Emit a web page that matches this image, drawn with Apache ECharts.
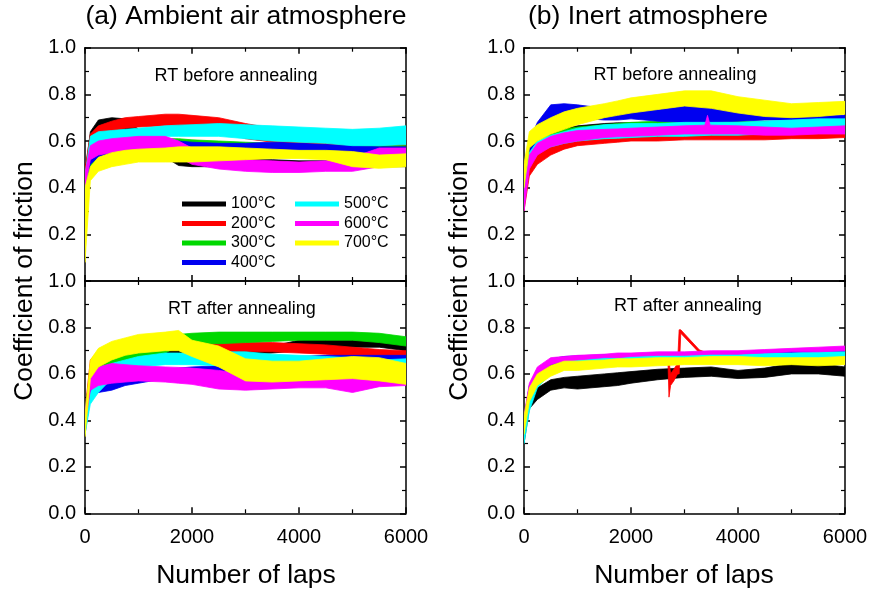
<!DOCTYPE html>
<html>
<head>
<meta charset="utf-8">
<script src="https://cdn.jsdelivr.net/npm/echarts@6/dist/echarts.min.js"></script>
<style>
html,body{margin:0;padding:0;background:#fff;}
#chart{width:874px;height:592px;}
</style>
</head>
<body>
<div id="chart"></div>
<script>
// ---------- DATA ----------
const temps = ['100°C', '200°C', '300°C', '400°C', '500°C', '600°C', '700°C'];
const xTicks = [0, 2000, 4000, 6000];
const yTicks = [0.0, 0.2, 0.4, 0.6, 0.8, 1.0];

// laps at which band limits were read (common sampling)
const X = [0, 100, 250, 500, 750, 1000, 1500, 1750, 2000, 2500, 3000, 3500, 4000, 4500, 5000, 5500, 6000];

// (a) Ambient air, RT before annealing : lower / upper edge of each band
const airBefore100Lo = [0.40,0.58,0.64,0.655,0.64,0.60,0.53,0.495,0.49,0.49,0.49,0.49,0.49,0.49,0.49,0.49,0.49];
const airBefore100Hi = [0.46,0.64,0.69,0.70,0.695,0.65,0.58,0.545,0.53,0.52,0.52,0.52,0.515,0.515,0.515,0.51,0.51];
const airBefore200Lo = [0.42,0.58,0.62,0.64,0.655,0.66,0.665,0.665,0.66,0.645,0.61,0.595,0.585,0.58,0.575,0.57,0.57];
const airBefore200Hi = [0.48,0.63,0.665,0.685,0.70,0.705,0.715,0.715,0.71,0.70,0.675,0.655,0.635,0.62,0.61,0.60,0.60];
const airBefore300Lo = [0.38,0.48,0.52,0.55,0.56,0.57,0.58,0.58,0.585,0.58,0.57,0.57,0.565,0.56,0.56,0.56,0.56];
const airBefore300Hi = [0.42,0.53,0.56,0.59,0.595,0.60,0.61,0.61,0.605,0.60,0.595,0.59,0.585,0.58,0.58,0.58,0.58];
const airBefore400Lo = [0.38,0.50,0.53,0.54,0.55,0.55,0.555,0.56,0.56,0.565,0.56,0.56,0.56,0.555,0.55,0.55,0.55];
const airBefore400Hi = [0.44,0.55,0.58,0.59,0.595,0.60,0.60,0.60,0.595,0.59,0.59,0.595,0.59,0.585,0.58,0.575,0.575];
const airBefore500Lo = [0.38,0.55,0.59,0.60,0.61,0.615,0.62,0.62,0.62,0.62,0.61,0.60,0.595,0.59,0.58,0.58,0.585];
const airBefore500Hi = [0.45,0.62,0.64,0.645,0.65,0.655,0.665,0.668,0.67,0.675,0.67,0.665,0.66,0.655,0.65,0.655,0.665];
const airBefore600Lo = [0.40,0.52,0.54,0.55,0.56,0.56,0.55,0.53,0.50,0.48,0.47,0.465,0.465,0.47,0.47,0.49,0.50];
const airBefore600Hi = [0.46,0.58,0.60,0.61,0.615,0.62,0.62,0.60,0.57,0.53,0.52,0.515,0.51,0.515,0.53,0.57,0.57];
const airBefore700Lo = [0.08,0.43,0.47,0.49,0.50,0.51,0.51,0.51,0.51,0.515,0.52,0.525,0.525,0.52,0.49,0.483,0.49];
const airBefore700Hi = [0.40,0.49,0.53,0.55,0.56,0.565,0.57,0.575,0.575,0.575,0.57,0.565,0.56,0.56,0.555,0.54,0.545];

// (a) Ambient air, RT after annealing
const airAfter100Lo = [0.38,0.55,0.60,0.62,0.64,0.65,0.67,0.68,0.68,0.685,0.685,0.69,0.70,0.71,0.715,0.715,0.70];
const airAfter100Hi = [0.44,0.61,0.65,0.67,0.68,0.69,0.70,0.705,0.705,0.705,0.705,0.72,0.745,0.75,0.75,0.745,0.735];
const airAfter200Lo = [0.36,0.60,0.65,0.68,0.70,0.71,0.71,0.71,0.70,0.695,0.695,0.695,0.69,0.685,0.675,0.665,0.665];
const airAfter200Hi = [0.44,0.66,0.70,0.73,0.75,0.765,0.77,0.77,0.76,0.74,0.735,0.735,0.73,0.725,0.715,0.705,0.70];
const airAfter300Lo = [0.38,0.55,0.60,0.63,0.65,0.67,0.69,0.72,0.73,0.73,0.735,0.74,0.745,0.745,0.745,0.735,0.72];
const airAfter300Hi = [0.45,0.60,0.65,0.68,0.70,0.71,0.735,0.77,0.775,0.78,0.78,0.78,0.78,0.78,0.78,0.775,0.76];
const airAfter400Lo = [0.34,0.50,0.52,0.53,0.55,0.56,0.58,0.59,0.60,0.605,0.63,0.645,0.655,0.66,0.66,0.66,0.66];
const airAfter400Hi = [0.40,0.54,0.56,0.57,0.59,0.60,0.62,0.625,0.63,0.635,0.66,0.67,0.675,0.68,0.68,0.68,0.68];
const airAfter500Lo = [0.34,0.47,0.52,0.58,0.62,0.63,0.64,0.64,0.64,0.635,0.655,0.65,0.655,0.65,0.64,0.635,0.635];
const airAfter500Hi = [0.40,0.52,0.58,0.645,0.66,0.675,0.69,0.69,0.69,0.695,0.695,0.685,0.68,0.675,0.67,0.66,0.665];
const airAfter600Lo = [0.38,0.53,0.55,0.56,0.565,0.57,0.565,0.56,0.555,0.535,0.53,0.535,0.54,0.54,0.52,0.545,0.55];
const airAfter600Hi = [0.44,0.60,0.63,0.645,0.64,0.635,0.63,0.628,0.625,0.615,0.60,0.59,0.59,0.59,0.585,0.59,0.59];
const airAfter700Lo = [0.33,0.58,0.63,0.66,0.68,0.69,0.70,0.70,0.675,0.63,0.57,0.565,0.57,0.575,0.58,0.57,0.555];
const airAfter700Hi = [0.42,0.66,0.71,0.74,0.755,0.77,0.78,0.787,0.745,0.72,0.665,0.655,0.655,0.665,0.675,0.67,0.645];

// (b) Inert, RT before annealing
const inertBefore100Lo = [0.32,0.50,0.56,0.60,0.62,0.63,0.64,0.645,0.645,0.65,0.65,0.65,0.65,0.65,0.65,0.655,0.655];
const inertBefore100Hi = [0.38,0.55,0.60,0.64,0.655,0.665,0.675,0.678,0.678,0.68,0.68,0.68,0.68,0.68,0.68,0.685,0.685];
const inertBefore200Lo = [0.30,0.45,0.50,0.54,0.565,0.58,0.59,0.595,0.60,0.60,0.605,0.605,0.605,0.605,0.61,0.61,0.615];
const inertBefore200Hi = [0.36,0.50,0.55,0.58,0.60,0.615,0.625,0.63,0.63,0.63,0.635,0.635,0.635,0.635,0.64,0.64,0.645];
const inertBefore300Lo = [0.33,0.52,0.57,0.60,0.61,0.62,0.63,0.635,0.64,0.645,0.645,0.645,0.65,0.65,0.65,0.65,0.65];
const inertBefore300Hi = [0.40,0.57,0.61,0.64,0.65,0.66,0.67,0.675,0.68,0.685,0.685,0.685,0.685,0.685,0.685,0.685,0.685];
const inertBefore400Lo = [0.38,0.50,0.60,0.70,0.71,0.70,0.69,0.69,0.695,0.685,0.68,0.68,0.685,0.69,0.69,0.69,0.69];
const inertBefore400Hi = [0.48,0.60,0.68,0.755,0.76,0.755,0.74,0.73,0.725,0.735,0.75,0.75,0.73,0.72,0.71,0.71,0.71];
const inertBefore500Lo = [0.33,0.50,0.55,0.575,0.59,0.60,0.61,0.612,0.615,0.62,0.62,0.625,0.625,0.63,0.63,0.635,0.635];
const inertBefore500Hi = [0.40,0.55,0.60,0.625,0.64,0.655,0.67,0.672,0.675,0.675,0.68,0.68,0.68,0.685,0.69,0.695,0.695];
const inertBefore600X  = [0, 100, 250, 500, 750, 1000, 1500, 1750, 2000, 2500, 3000, 3380, 3430, 3480, 4000, 4500, 5000, 5500, 6000];
const inertBefore600Lo = [0.30,0.48,0.54,0.575,0.59,0.60,0.615,0.618,0.62,0.625,0.63,0.63,0.63,0.63,0.63,0.625,0.625,0.63,0.63];
const inertBefore600Hi = [0.38,0.54,0.59,0.62,0.635,0.645,0.65,0.652,0.655,0.66,0.665,0.668,0.71,0.668,0.665,0.66,0.655,0.66,0.665];
const inertBefore700Lo = [0.40,0.57,0.60,0.63,0.65,0.67,0.70,0.71,0.72,0.735,0.75,0.74,0.72,0.705,0.70,0.705,0.715];
const inertBefore700Hi = [0.50,0.64,0.67,0.70,0.725,0.74,0.76,0.772,0.785,0.80,0.815,0.815,0.79,0.775,0.76,0.765,0.77];

// (b) Inert, RT after annealing
const inertAfter100Lo = [0.30,0.45,0.49,0.53,0.54,0.535,0.545,0.55,0.56,0.575,0.585,0.59,0.58,0.585,0.60,0.60,0.59];
const inertAfter100Hi = [0.36,0.50,0.54,0.575,0.585,0.59,0.60,0.605,0.61,0.62,0.625,0.63,0.615,0.625,0.645,0.645,0.63];
const inertAfter200X  = [0, 100, 250, 500, 750, 1000, 1500, 1750, 2000, 2500, 2690, 2710, 2740, 2800, 2870, 2900, 2930, 3280, 3500, 4000, 4500, 5000, 5500, 6000];
const inertAfter200Lo = [0.32,0.47,0.55,0.61,0.63,0.64,0.65,0.65,0.655,0.66,0.66,0.50,0.55,0.57,0.60,0.60,0.775,0.69,0.67,0.67,0.675,0.675,0.68,0.68];
const inertAfter200Hi = [0.38,0.52,0.59,0.645,0.655,0.665,0.675,0.675,0.678,0.68,0.68,0.66,0.60,0.62,0.645,0.79,0.79,0.703,0.685,0.685,0.69,0.69,0.695,0.695];
const inertAfter300Lo = [0.34,0.50,0.58,0.635,0.65,0.655,0.66,0.665,0.665,0.67,0.67,0.675,0.675,0.68,0.68,0.68,0.685];
const inertAfter300Hi = [0.40,0.55,0.62,0.665,0.672,0.675,0.68,0.68,0.685,0.69,0.69,0.69,0.69,0.695,0.70,0.70,0.705];
const inertAfter400Lo = [0.35,0.50,0.58,0.64,0.655,0.655,0.66,0.665,0.665,0.67,0.67,0.675,0.675,0.68,0.68,0.68,0.685];
const inertAfter400Hi = [0.41,0.55,0.62,0.665,0.675,0.678,0.682,0.685,0.685,0.69,0.69,0.692,0.692,0.695,0.70,0.70,0.705];
const inertAfter500Lo = [0.30,0.44,0.54,0.60,0.63,0.64,0.65,0.65,0.655,0.66,0.66,0.665,0.665,0.665,0.67,0.67,0.67];
const inertAfter500Hi = [0.36,0.50,0.58,0.63,0.655,0.665,0.675,0.675,0.678,0.68,0.68,0.685,0.685,0.69,0.69,0.695,0.695];
const inertAfter600Lo = [0.36,0.50,0.58,0.64,0.655,0.66,0.67,0.67,0.675,0.68,0.68,0.685,0.685,0.69,0.695,0.695,0.70];
const inertAfter600Hi = [0.42,0.56,0.63,0.67,0.675,0.68,0.685,0.69,0.69,0.695,0.695,0.70,0.70,0.705,0.71,0.715,0.72];
const inertAfter700Lo = [0.34,0.48,0.55,0.59,0.615,0.615,0.625,0.63,0.63,0.635,0.64,0.64,0.64,0.635,0.64,0.635,0.64];
const inertAfter700Hi = [0.42,0.54,0.60,0.635,0.655,0.655,0.66,0.665,0.665,0.67,0.67,0.675,0.675,0.67,0.67,0.67,0.675];

// ---------- STYLE ----------
const colors = ['#000000', '#ff0000', '#00d800', '#0000f0', '#00ffff', '#ff00ff', '#ffff00'];
const FONT = '"Liberation Sans", Arial, sans-serif';

const panels = [
  { // top-left
    grid: { left: 85, top: 47.7, width: 321, height: 233.3 }, showX: false,
    x: [X, X, X, X, X, X, X],
    lo: [airBefore100Lo, airBefore200Lo, airBefore300Lo, airBefore400Lo, airBefore500Lo, airBefore600Lo, airBefore700Lo],
    hi: [airBefore100Hi, airBefore200Hi, airBefore300Hi, airBefore400Hi, airBefore500Hi, airBefore600Hi, airBefore700Hi]
  },
  { // bottom-left
    grid: { left: 85, top: 281, width: 321, height: 232.3 }, showX: true,
    x: [X, X, X, X, X, X, X],
    lo: [airAfter100Lo, airAfter200Lo, airAfter300Lo, airAfter400Lo, airAfter500Lo, airAfter600Lo, airAfter700Lo],
    hi: [airAfter100Hi, airAfter200Hi, airAfter300Hi, airAfter400Hi, airAfter500Hi, airAfter600Hi, airAfter700Hi]
  },
  { // top-right
    grid: { left: 524, top: 47.7, width: 321, height: 233.3 }, showX: false,
    x: [X, X, X, X, X, inertBefore600X, X],
    lo: [inertBefore100Lo, inertBefore200Lo, inertBefore300Lo, inertBefore400Lo, inertBefore500Lo, inertBefore600Lo, inertBefore700Lo],
    hi: [inertBefore100Hi, inertBefore200Hi, inertBefore300Hi, inertBefore400Hi, inertBefore500Hi, inertBefore600Hi, inertBefore700Hi]
  },
  { // bottom-right
    grid: { left: 524, top: 281, width: 321, height: 232.3 }, showX: true,
    x: [X, inertAfter200X, X, X, X, X, X],
    lo: [inertAfter100Lo, inertAfter200Lo, inertAfter300Lo, inertAfter400Lo, inertAfter500Lo, inertAfter600Lo, inertAfter700Lo],
    hi: [inertAfter100Hi, inertAfter200Hi, inertAfter300Hi, inertAfter400Hi, inertAfter500Hi, inertAfter600Hi, inertAfter700Hi]
  }
];

const axisLine = { show: true, onZero: false, lineStyle: { color: '#000', width: 1.5 } };
const tick = { show: true, inside: true, length: 6, lineStyle: { color: '#000', width: 1.5 } };
const minor = { show: true, splitNumber: 2, length: 4, lineStyle: { color: '#000', width: 1.2 } };

// band drawn as one polygon: upper edge forward, lower edge back, through the axes' coord()
function bandRenderer(xs, lo, hi, color) {
  return function (params, api) {
    if (params.dataIndex !== 0) return null;
    const pts = [];
    for (let i = 0; i < xs.length; i++) pts.push(api.coord([xs[i], hi[i]]));
    for (let i = xs.length - 1; i >= 0; i--) pts.push(api.coord([xs[i], lo[i]]));
    return {
      type: 'polygon',
      shape: { points: pts },
      style: { fill: color, stroke: color, lineWidth: 0.8 }
    };
  };
}

const grids = [], xAxes = [], yAxes = [], series = [];
panels.forEach((p, pi) => {
  grids.push(Object.assign({ containLabel: false }, p.grid));
  xAxes.push({
    type: 'value', gridIndex: pi, position: 'bottom', min: xTicks[0], max: xTicks[xTicks.length - 1],
    interval: xTicks[1] - xTicks[0], axisLine, axisTick: tick, minorTick: minor, splitLine: { show: false },
    axisLabel: { show: p.showX, color: '#000', fontSize: 20, fontFamily: FONT, margin: 14, formatter: v => String(v) }
  });
  xAxes.push({
    type: 'value', gridIndex: pi, position: 'top', min: xTicks[0], max: xTicks[xTicks.length - 1],
    interval: xTicks[1] - xTicks[0], axisLine, axisTick: tick, minorTick: minor, splitLine: { show: false },
    axisLabel: { show: false }
  });
  yAxes.push({
    type: 'value', gridIndex: pi, position: 'left', min: yTicks[0], max: yTicks[yTicks.length - 1],
    interval: yTicks[1] - yTicks[0], axisLine, axisTick: tick, minorTick: minor, splitLine: { show: false },
    axisLabel: {
      color: '#000', fontSize: 20, fontFamily: FONT, margin: 9, showMinLabel: p.showX,
      formatter: v => v.toFixed(1)
    }
  });
  yAxes.push({
    type: 'value', gridIndex: pi, position: 'right', min: yTicks[0], max: yTicks[yTicks.length - 1],
    interval: yTicks[1] - yTicks[0], axisLine, axisTick: tick, minorTick: minor, splitLine: { show: false },
    axisLabel: { show: false }
  });
  temps.forEach((t, k) => {
    const xs = p.x[k], lo = p.lo[k], hi = p.hi[k];
    const c = colors[k];
    series.push({
      type: 'custom', name: t, xAxisIndex: pi * 2, yAxisIndex: pi * 2,
      data: xs.map((v, i) => [v, lo[i], hi[i]]),
      encode: { x: 0, y: [1, 2] },
      itemStyle: { color: c },
      clip: true, silent: true,
      renderItem: bandRenderer(xs, lo, hi, c)
    });
  });
});

const txt = (text, x, y, size, rot) => ({
  type: 'text', x, y, rotation: rot || 0, silent: true,
  style: { text, fill: '#000', font: size + 'px ' + FONT, textAlign: 'center', textVerticalAlign: 'middle' }
});

const legendBase = {
  orient: 'vertical', itemWidth: 44, itemHeight: 5, itemGap: 3.5, icon: 'rect',
  selectedMode: false, padding: 0,
  itemStyle: { borderWidth: 0 },
  textStyle: { color: '#000', fontSize: 16, fontFamily: FONT, lineHeight: 16 }
};

const option = {
  animation: false,
  backgroundColor: '#fff',
  grid: grids,
  xAxis: xAxes,
  yAxis: yAxes,
  legend: [
    Object.assign({}, legendBase, { left: 182, top: 196, data: temps.slice(0, 4) }),
    Object.assign({}, legendBase, { left: 295, top: 196, data: temps.slice(4) })
  ],
  series,
  graphic: [
    txt('(a) Ambient air atmosphere', 246, 17, 26.5),
    txt('(b) Inert atmosphere', 648, 17, 26.5),
    txt('Coefficient of friction', 25, 281, 26.5, Math.PI / 2),
    txt('Coefficient of friction', 460, 281, 26.5, Math.PI / 2),
    txt('Number of laps', 246, 576, 26.5),
    txt('Number of laps', 684, 576, 26.5),
    txt('RT before annealing', 236, 76, 18),
    txt('RT before annealing', 675, 75, 18),
    txt('RT after annealing', 242, 309, 18),
    txt('RT after annealing', 688, 306, 18)
  ]
};

const chart = echarts.init(document.getElementById('chart'), null, { renderer: 'canvas' });
chart.setOption(option);
</script>
</body>
</html>
